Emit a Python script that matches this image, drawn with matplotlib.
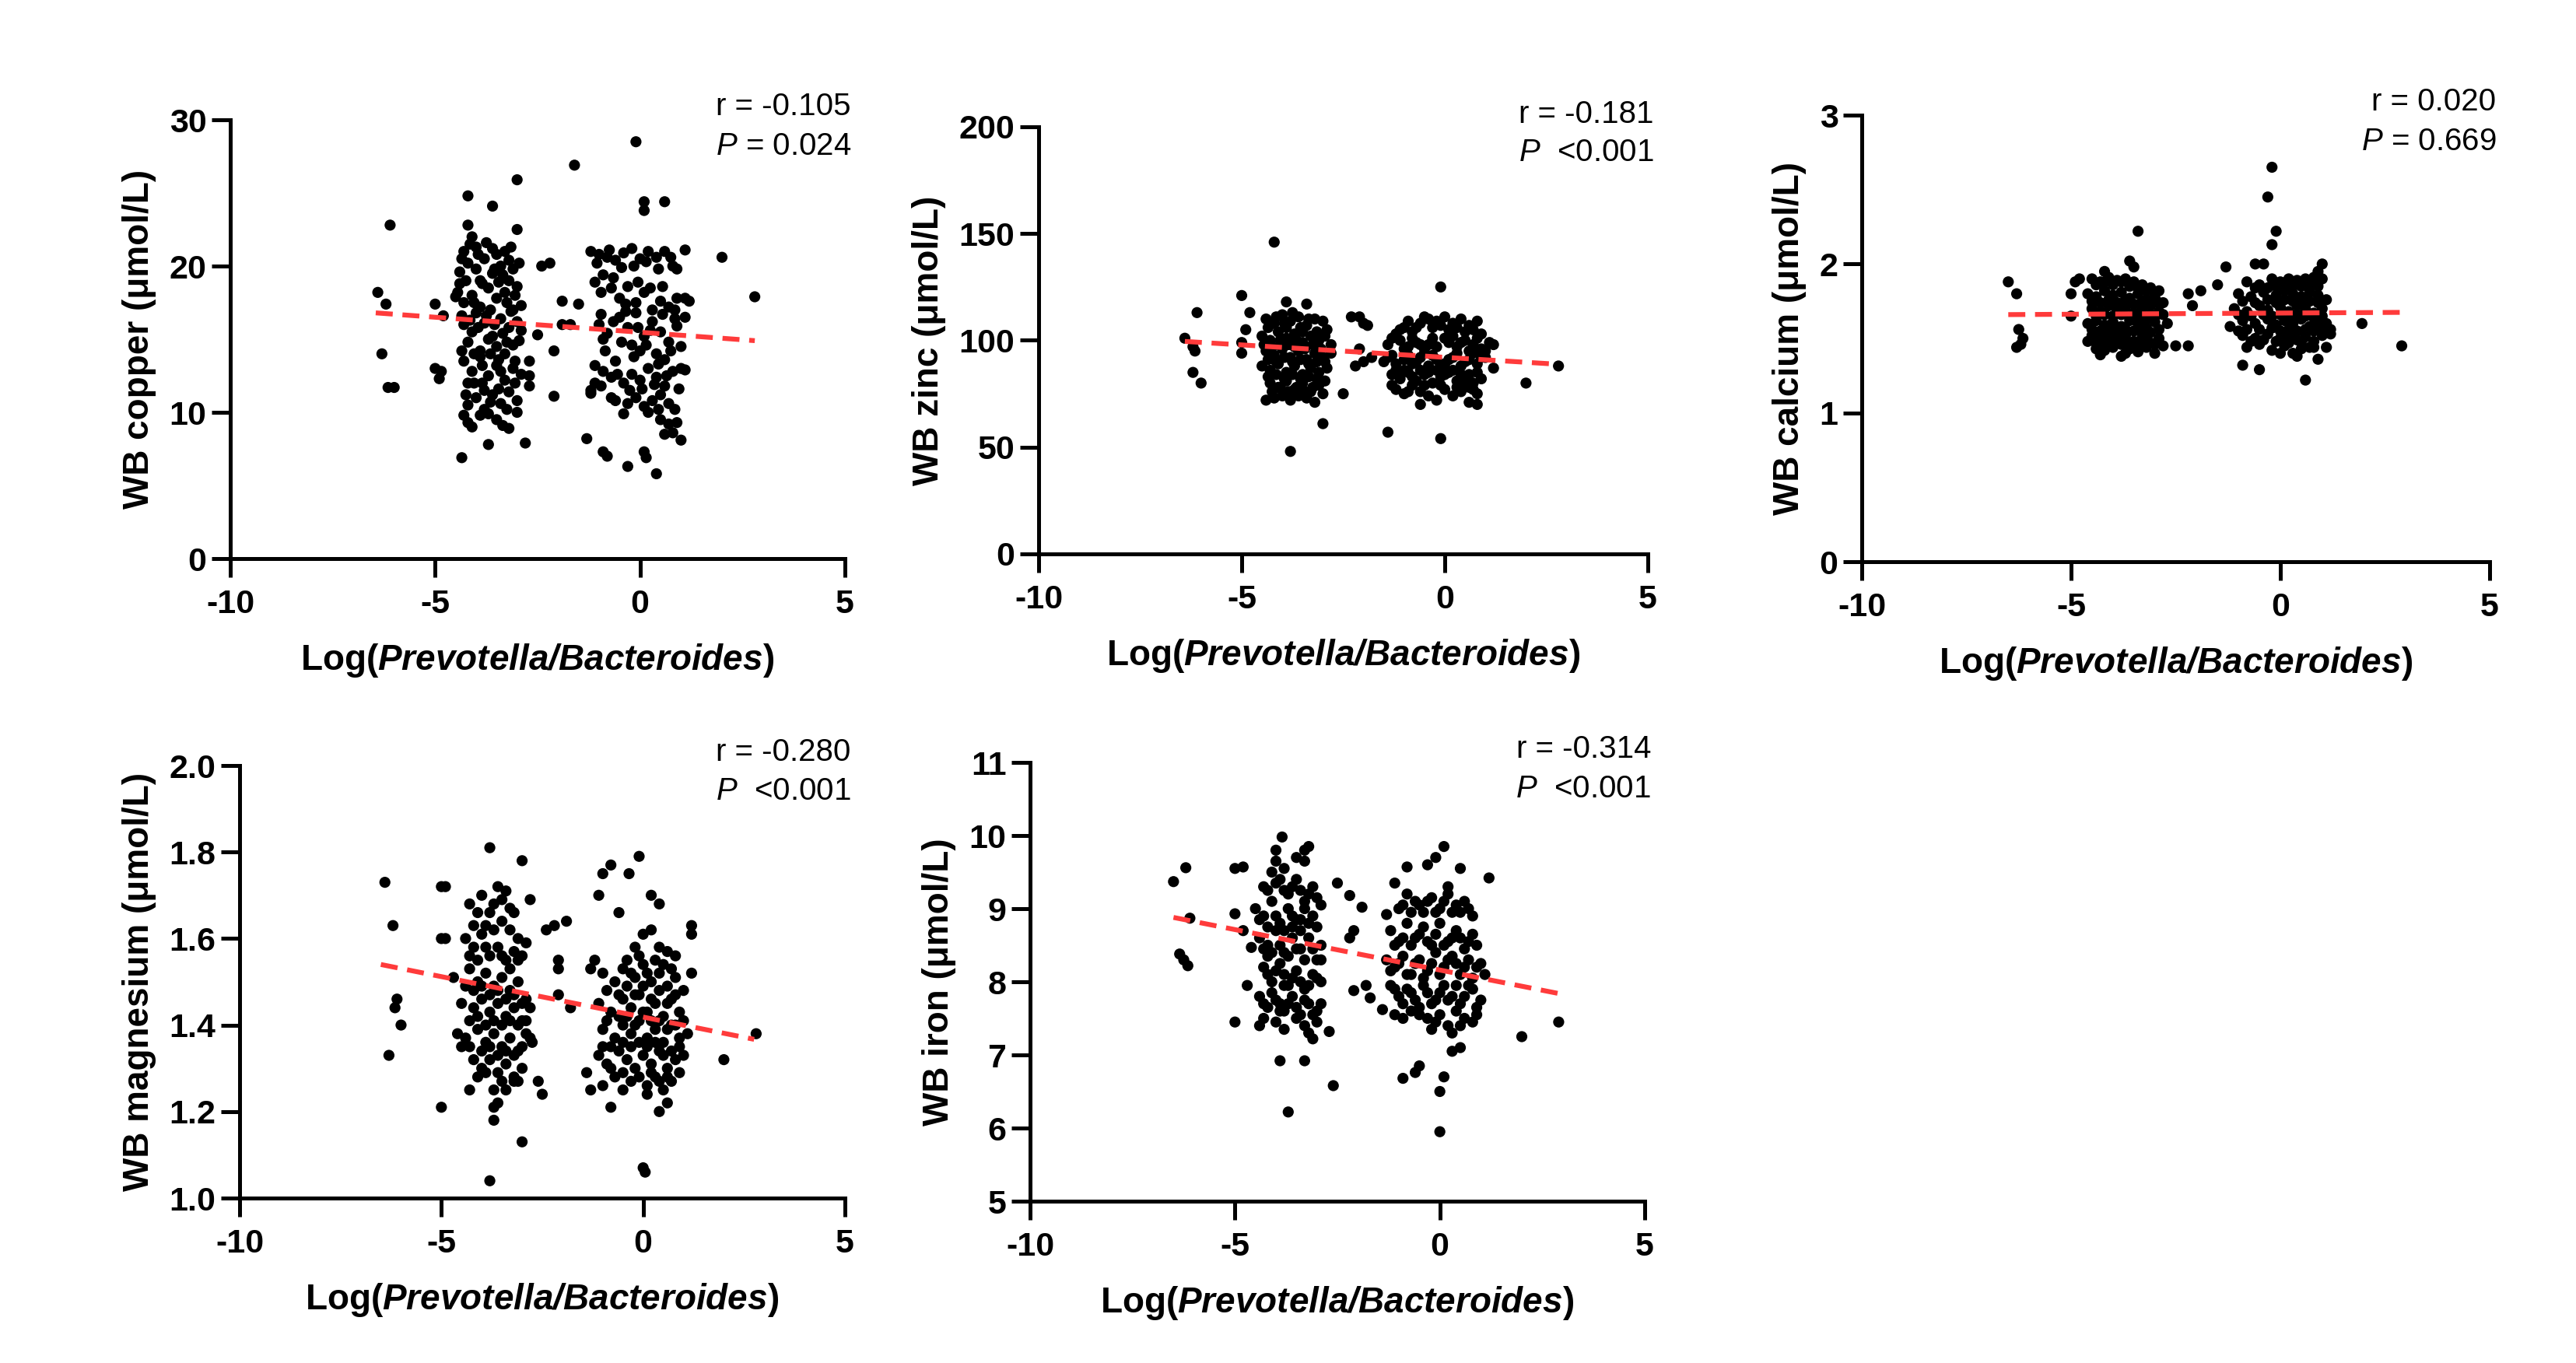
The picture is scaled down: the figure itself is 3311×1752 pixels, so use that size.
import matplotlib
matplotlib.use("Agg")
import matplotlib.pyplot as plt

plt.rcParams.update({
    "font.family": ["Liberation Sans", "DejaVu Sans"],
    "axes.unicode_minus": False,
    "mathtext.fontset": "custom",
    "mathtext.rm": "Liberation Sans",
    "mathtext.it": "Liberation Sans:italic",
    "mathtext.bf": "Liberation Sans:bold",
    "mathtext.bfit": "Liberation Sans:bold:italic",
})

# ---- data (x = Log(Prevotella/Bacteroides)) ----
copper_pts = [
    (-6.4, 18.2), (-6.3, 14.0), (-6.2, 17.4), (-6.1, 22.8), (-6.15, 11.7), (-6.0, 11.7),
    (-5.0, 17.4), (-4.8, 16.6), (-5.0, 13.0), (-4.9, 12.3), (-4.85, 12.8),
    (-4.35, 6.9), (-4.2, 22.8), (-4.2, 24.8), (-3.6, 24.1), (-3.0, 25.9), (-3.0, 22.5),
    (-3.7, 7.8), (-2.8, 7.9), (-3.2, 8.9), (-3.35, 9.1),
    (-2.5, 15.3), (-2.4, 20.0), (-2.2, 20.2), (-2.1, 14.2), (-2.1, 11.1), (-2.7, 12.5),
    (-2.7, 11.8), (-2.7, 13.5), (-1.9, 16.0), (-1.9, 17.6), (-1.6, 26.9), (-1.5, 17.4), (-1.7, 16.0),
    (-0.1, 28.5), (0.1, 23.8), (0.1, 24.4), (0.6, 24.4), (1.1, 21.1), (2.0, 20.6), (2.8, 17.9),
    (1.0, 8.1), (0.4, 5.8), (0.1, 7.3), (0.15, 6.9), (-0.3, 6.3), (-0.8, 7.0), (-0.9, 7.3),
    (-1.3, 8.2), (-1.2, 11.3), (-0.7, 11.0), (-0.6, 13.5), (1.1, 12.9), (1.1, 17.8), (1.2, 17.6), (1.1, 16.5),
    # left cluster
    (-4.4, 19.6), (-4.3, 21.0), (-4.2, 20.2), (-4.1, 22.0), (-4.0, 21.3), (-3.9, 19.0), (-3.8, 20.5),
    (-3.6, 21.2), (-3.5, 20.8), (-3.4, 20.0), (-3.3, 21.0), (-3.2, 20.4), (-3.1, 19.8), (-3.0, 18.6),
    (-4.4, 18.8), (-4.3, 17.5), (-4.1, 18.0), (-3.9, 17.2), (-3.7, 18.5), (-3.5, 17.8), (-3.3, 18.2),
    (-3.1, 17.0), (-2.9, 17.3), (-4.5, 17.9), (-4.3, 16.0), (-4.1, 15.5), (-4.0, 16.8), (-3.8, 16.1),
    (-3.6, 15.2), (-3.4, 16.4), (-3.2, 15.8), (-3.0, 16.2), (-2.9, 15.6), (-4.2, 14.8), (-3.9, 14.2),
    (-3.7, 15.0), (-3.5, 14.5), (-3.3, 14.0), (-3.1, 14.6), (-4.3, 13.5), (-4.1, 12.8), (-3.9, 13.8),
    (-3.7, 12.5), (-3.5, 13.2), (-3.3, 12.2), (-3.1, 13.0), (-2.9, 12.6), (-4.2, 12.0), (-3.8, 11.5),
    (-4.2, 10.5), (-4.0, 11.0), (-3.8, 10.2), (-3.6, 11.2), (-3.4, 10.6), (-3.2, 11.4), (-3.0, 10.8),
    (-3.9, 9.8), (-4.2, 9.3), (-4.1, 9.0), (-3.5, 9.5), (-3.0, 10.0), (-3.4, 12.8), (-3.6, 19.5),
    (-4.0, 19.8), (-3.2, 19.0),
    (-4.35, 20.5), (-4.15, 21.5), (-3.95, 20.8), (-3.75, 21.6), (-3.55, 19.8), (-3.35, 19.4),
    (-3.15, 21.3), (-2.95, 20.2), (-4.45, 18.2), (-4.25, 19.0), (-4.05, 17.5), (-3.85, 18.8),
    (-3.65, 17.0), (-3.45, 18.9), (-3.25, 17.5), (-3.05, 18.0), (-4.35, 16.6), (-4.15, 16.3),
    (-3.95, 15.8), (-3.75, 16.6), (-3.55, 16.0), (-3.35, 15.4), (-3.15, 16.9), (-2.95, 14.9),
    (-4.35, 14.2), (-4.05, 14.0), (-3.85, 13.2), (-3.65, 14.0), (-3.45, 13.6), (-3.25, 14.8),
    (-3.05, 13.5), (-4.25, 11.2), (-4.05, 12.0), (-3.85, 12.0), (-3.65, 10.7), (-3.45, 11.6),
    (-3.25, 10.2), (-3.05, 12.0), (-4.3, 9.8), (-3.7, 9.9),
    # right cluster
    (-1.2, 21.0), (-1.0, 20.8), (-0.8, 20.6), (-0.6, 20.4), (-0.4, 20.9), (-0.2, 21.2), (0.0, 20.5),
    (0.2, 21.0), (0.4, 20.6), (0.6, 21.0), (0.8, 20.0), (0.9, 19.8), (-1.1, 18.9), (-0.9, 19.4),
    (-0.7, 18.5), (-0.5, 17.8), (-0.3, 18.6), (-0.1, 17.5), (0.1, 18.2), (0.3, 17.0), (0.5, 17.6),
    (0.7, 17.2), (0.9, 17.8), (-1.0, 16.0), (-0.8, 15.4), (-0.5, 16.5), (-0.3, 15.8), (-0.1, 16.8),
    (0.1, 15.2), (0.3, 16.2), (0.5, 15.5), (0.7, 14.8), (0.9, 15.9), (-0.2, 14.6), (0.0, 14.2),
    (0.4, 14.0), (0.6, 13.6), (-1.1, 13.2), (-0.9, 12.8), (-0.7, 12.4), (-0.4, 12.0), (-0.2, 12.6),
    (0.0, 12.2), (0.2, 13.0), (0.4, 12.4), (0.6, 11.8), (0.8, 12.8), (1.0, 13.0), (-1.2, 11.5),
    (-0.6, 10.8), (-0.3, 10.6), (-0.1, 11.0), (0.1, 10.4), (0.3, 10.8), (0.5, 11.2), (0.7, 10.6),
    (0.5, 9.5), (0.7, 9.2), (0.9, 9.3), (0.6, 8.5), (0.8, 8.6), (-1.1, 12.0), (-0.9, 15.0),
    (-1.05, 20.2), (-0.75, 21.1), (-0.45, 19.9), (-0.15, 20.0), (0.15, 20.3), (0.45, 19.8),
    (0.75, 20.6), (-0.95, 18.2), (-0.65, 19.2), (-0.35, 17.4), (-0.05, 18.9), (0.25, 18.5),
    (0.55, 18.6), (0.85, 17.0), (-0.95, 16.7), (-0.65, 16.2), (-0.35, 16.9), (-0.05, 15.8),
    (0.25, 15.6), (0.55, 16.7), (0.85, 16.4), (-0.85, 14.2), (-0.45, 14.8), (-0.15, 13.8),
    (0.15, 14.6), (0.45, 13.3), (0.75, 14.2), (1.0, 14.5), (-0.95, 11.8), (-0.55, 12.6),
    (-0.25, 11.5), (0.05, 11.6), (0.35, 11.9), (0.65, 12.5), (0.95, 11.6), (0.2, 10.0),
    (0.45, 10.2), (0.85, 10.2), (-0.4, 9.9),
]
copper_fit_x = [-6.45, 2.8]
copper_fit_y = [16.8, 14.9]

zinc_pts = [
    (-4.2, 146), (-5.0, 121), (-3.9, 118), (-3.4, 117), (-6.1, 113), (-4.8, 113), (-6.4, 101),
    (-6.2, 97), (-6.15, 95), (-6.2, 85), (-6.0, 80), (-5.0, 99), (-4.9, 105), (-5.0, 94),
    (-3.0, 61), (-3.8, 48), (-2.5, 75), (-2.3, 111), (-2.1, 111), (-2.0, 108), (-1.9, 107),
    (-2.1, 96), (-2.2, 88), (-2.0, 90), (-1.8, 92), (-1.4, 57), (-0.1, 54), (-0.1, 125),
    (2.0, 80), (2.8, 88), (1.2, 87), (1.2, 98), (0.8, 70), (0.6, 71), (-0.6, 70),
    # left cluster
    (-4.4, 110), (-4.2, 108), (-4.0, 112), (-3.8, 109), (-3.6, 111), (-3.4, 107), (-3.2, 110),
    (-3.0, 109), (-2.9, 105), (-4.5, 102), (-4.3, 100), (-4.1, 104), (-3.9, 101), (-3.7, 103),
    (-3.5, 99), (-3.3, 102), (-3.1, 100), (-2.8, 98), (-4.4, 95), (-4.2, 93), (-4.0, 96),
    (-3.8, 92), (-3.6, 95), (-3.4, 91), (-3.2, 94), (-3.0, 92), (-2.8, 94), (-4.5, 88),
    (-4.3, 86), (-4.1, 89), (-3.9, 85), (-3.7, 88), (-3.5, 84), (-3.3, 87), (-3.1, 85),
    (-2.9, 87), (-4.3, 80), (-4.1, 78), (-3.9, 81), (-3.7, 77), (-3.5, 80), (-3.3, 76),
    (-3.1, 79), (-3.0, 75), (-4.4, 72), (-4.2, 73), (-4.0, 74), (-3.8, 72), (-3.6, 74),
    (-3.4, 73), (-3.2, 71), (-3.7, 97), (-3.9, 106), (-3.5, 104),
    (-4.35, 106), (-4.15, 111), (-3.95, 108), (-3.75, 113), (-3.55, 106), (-3.35, 110),
    (-3.15, 104), (-2.95, 102), (-4.45, 98), (-4.25, 97), (-4.05, 100), (-3.85, 98),
    (-3.65, 100), (-3.45, 96), (-3.25, 98), (-3.05, 96), (-4.35, 91), (-4.15, 90),
    (-3.95, 92), (-3.75, 90), (-3.55, 91), (-3.35, 89), (-3.15, 90), (-2.95, 90),
    (-4.35, 83), (-4.15, 84), (-3.95, 82), (-3.75, 84), (-3.55, 82), (-3.35, 83),
    (-3.15, 82), (-2.95, 81), (-4.25, 76), (-4.05, 78), (-3.85, 76), (-3.65, 78),
    (-3.45, 76), (-3.25, 78), (-3.85, 74),
    # right cluster
    (-1.2, 103), (-1.0, 106), (-0.8, 104), (-0.6, 108), (-0.4, 110), (-0.2, 109), (0.0, 111),
    (0.2, 108), (0.4, 110), (0.6, 107), (0.8, 109), (-1.4, 98), (-1.1, 100), (-0.9, 97),
    (-0.7, 99), (-0.5, 96), (-0.3, 101), (0.1, 99), (0.3, 97), (0.5, 100), (0.7, 98),
    (0.9, 96), (1.1, 99), (-1.5, 90), (-1.3, 93), (-1.0, 91), (-0.8, 89), (-0.6, 92),
    (-0.4, 88), (-0.2, 91), (0.0, 89), (0.2, 92), (0.4, 88), (0.6, 91), (0.8, 89), (1.0, 92),
    (-1.3, 84), (-1.1, 82), (-0.9, 85), (-0.7, 81), (-0.5, 84), (-0.3, 80), (-0.1, 83),
    (0.1, 85), (0.3, 81), (0.5, 83), (0.7, 80), (0.9, 82), (-1.2, 77), (-1.0, 75), (-0.6, 76),
    (-0.4, 74), (-0.2, 72), (0.0, 77), (0.2, 74), (0.4, 76), (0.6, 78), (0.8, 75),
    (-1.1, 105), (-0.9, 109), (-0.7, 106), (-0.5, 111), (-0.3, 106), (-0.1, 107), (0.1, 105),
    (0.3, 106), (0.5, 104), (0.7, 105), (0.9, 103), (-1.3, 101), (-1.0, 96), (-0.8, 101),
    (-0.6, 98), (-0.4, 98), (-0.2, 97), (0.0, 101), (0.2, 102), (0.4, 99), (0.6, 95),
    (0.8, 101), (1.0, 95), (-1.4, 92), (-1.2, 89), (-0.9, 93), (-0.7, 90), (-0.5, 94),
    (-0.3, 93), (-0.1, 87), (0.1, 91), (0.3, 94), (0.5, 90), (0.7, 94), (0.9, 92),
    (-1.2, 86), (-1.0, 86), (-0.8, 83), (-0.6, 86), (-0.4, 85), (-0.2, 86), (0.0, 84),
    (0.2, 86), (0.4, 84), (0.6, 84), (0.8, 85), (-1.3, 79), (-0.8, 79), (-0.5, 79),
    (-0.1, 79), (0.3, 78), (0.5, 80), (0.7, 77), (-0.9, 76),
]
zinc_fit_x = [-6.4, 2.8]
zinc_fit_y = [99.5, 88.8]

calcium_pts = [
    (-6.5, 1.88), (-6.3, 1.80), (-6.25, 1.56), (-6.15, 1.50), (-6.3, 1.44), (-6.2, 1.46),
    (-5.0, 1.80), (-5.0, 1.65), (-4.9, 1.88), (-4.8, 1.90), (-3.4, 2.22), (-3.6, 2.02),
    (-3.5, 1.98), (-4.2, 1.95), (-2.5, 1.45), (-2.2, 1.45), (-2.2, 1.80), (-1.9, 1.82),
    (-2.1, 1.72), (-1.5, 1.86), (-1.3, 1.98), (-0.9, 1.32), (-0.5, 1.29), (-0.6, 2.00),
    (-0.4, 2.00), (-0.3, 2.45), (-0.2, 2.65), (-0.1, 2.22), (-0.2, 2.13), (1.0, 2.00),
    (0.9, 1.95), (0.6, 1.22), (0.9, 1.36), (1.1, 1.44), (1.95, 1.60), (2.9, 1.45),
    (-1.0, 1.55), (-1.2, 1.58),
    # left cluster
    (-4.5, 1.90), (-4.3, 1.88), (-4.1, 1.91), (-3.9, 1.89), (-3.7, 1.90), (-3.5, 1.88),
    (-3.3, 1.86), (-3.1, 1.84), (-2.9, 1.82), (-4.6, 1.80), (-4.4, 1.78), (-4.2, 1.82),
    (-4.0, 1.79), (-3.8, 1.81), (-3.6, 1.77), (-3.4, 1.80), (-3.2, 1.76), (-3.0, 1.78),
    (-2.8, 1.74), (-4.5, 1.70), (-4.3, 1.68), (-4.1, 1.72), (-3.9, 1.69), (-3.7, 1.71),
    (-3.5, 1.67), (-3.3, 1.70), (-3.1, 1.66), (-2.9, 1.68), (-4.6, 1.60), (-4.4, 1.62),
    (-4.2, 1.59), (-4.0, 1.61), (-3.8, 1.58), (-3.6, 1.62), (-3.4, 1.60), (-3.2, 1.57),
    (-3.0, 1.61), (-2.7, 1.60), (-4.5, 1.52), (-4.3, 1.50), (-4.1, 1.53), (-3.9, 1.49),
    (-3.7, 1.52), (-3.5, 1.48), (-3.3, 1.51), (-3.1, 1.47), (-2.9, 1.50), (-4.4, 1.43),
    (-4.2, 1.42), (-4.0, 1.44), (-3.8, 1.38), (-3.6, 1.43), (-3.4, 1.41), (-3.2, 1.44),
    (-3.0, 1.40), (-4.3, 1.39), (-2.8, 1.45),
    (-4.4, 1.86), (-4.2, 1.88), (-4.0, 1.86), (-3.8, 1.88), (-3.6, 1.85), (-3.4, 1.84),
    (-3.2, 1.82), (-3.0, 1.80), (-4.5, 1.75), (-4.3, 1.74), (-4.1, 1.76), (-3.9, 1.74),
    (-3.7, 1.76), (-3.5, 1.73), (-3.3, 1.75), (-3.1, 1.72), (-2.9, 1.74), (-4.4, 1.65),
    (-4.2, 1.66), (-4.0, 1.65), (-3.8, 1.66), (-3.6, 1.64), (-3.4, 1.65), (-3.2, 1.63),
    (-3.0, 1.64), (-2.8, 1.66), (-4.5, 1.56), (-4.3, 1.55), (-4.1, 1.56), (-3.9, 1.55),
    (-3.7, 1.56), (-3.5, 1.55), (-3.3, 1.55), (-3.1, 1.54), (-2.9, 1.56), (-4.4, 1.47),
    (-4.2, 1.47), (-4.0, 1.48), (-3.8, 1.46), (-3.6, 1.47), (-3.4, 1.46), (-3.2, 1.48),
    (-3.0, 1.46), (-4.6, 1.48), (-3.7, 1.40),
    # right cluster
    (-0.8, 1.88), (-0.5, 1.86), (-0.2, 1.90), (0.0, 1.88), (0.2, 1.90), (0.4, 1.89),
    (0.6, 1.90), (0.8, 1.91), (1.0, 1.90), (-1.0, 1.80), (-0.7, 1.78), (-0.4, 1.81),
    (-0.1, 1.79), (0.1, 1.82), (0.3, 1.80), (0.5, 1.78), (0.7, 1.81), (0.9, 1.79),
    (-1.1, 1.70), (-0.8, 1.68), (-0.5, 1.72), (-0.3, 1.69), (0.0, 1.71), (0.2, 1.68),
    (0.4, 1.72), (0.6, 1.70), (0.8, 1.67), (1.0, 1.70), (-0.9, 1.62), (-0.6, 1.60),
    (-0.3, 1.63), (-0.1, 1.59), (0.1, 1.62), (0.3, 1.60), (0.5, 1.63), (0.7, 1.58),
    (0.9, 1.61), (1.1, 1.60), (1.2, 1.56), (-0.9, 1.52), (-0.6, 1.50), (-0.3, 1.53),
    (0.0, 1.50), (0.2, 1.52), (0.4, 1.49), (0.6, 1.51), (0.8, 1.48), (1.0, 1.52),
    (1.2, 1.53), (-0.8, 1.44), (-0.5, 1.46), (-0.2, 1.42), (0.1, 1.45), (0.3, 1.40),
    (0.5, 1.43), (0.7, 1.44), (0.4, 1.38),
    (-0.6, 1.84), (-0.3, 1.84), (-0.1, 1.85), (0.1, 1.86), (0.3, 1.85), (0.5, 1.85),
    (0.7, 1.86), (0.9, 1.85), (-0.9, 1.75), (-0.6, 1.74), (-0.3, 1.76), (-0.1, 1.74),
    (0.1, 1.76), (0.3, 1.75), (0.5, 1.74), (0.7, 1.75), (0.9, 1.74), (1.1, 1.76),
    (-1.0, 1.66), (-0.7, 1.65), (-0.4, 1.66), (-0.2, 1.65), (0.0, 1.66), (0.2, 1.65),
    (0.4, 1.66), (0.6, 1.65), (0.8, 1.64), (1.0, 1.65), (-0.8, 1.56), (-0.5, 1.56),
    (-0.2, 1.57), (0.0, 1.55), (0.2, 1.56), (0.4, 1.55), (0.6, 1.56), (0.8, 1.55),
    (1.0, 1.57), (-0.7, 1.48), (-0.4, 1.49), (-0.1, 1.48), (0.2, 1.47), (0.5, 1.48),
    (0.8, 1.44), (0.0, 1.40),
]
calcium_fit_x = [-6.5, 2.9]
calcium_fit_y = [1.66, 1.675]

magnesium_pts = [
    (-6.4, 1.73), (-6.3, 1.33), (-6.2, 1.63), (-6.15, 1.44), (-6.1, 1.46), (-6.0, 1.40),
    (-5.0, 1.72), (-4.9, 1.72), (-5.0, 1.60), (-4.9, 1.60), (-5.0, 1.21), (-4.7, 1.51),
    (-3.8, 1.81), (-3.0, 1.78), (-2.8, 1.69), (-3.0, 1.13), (-3.7, 1.18), (-3.7, 1.21),
    (-3.8, 1.04), (-2.6, 1.27), (-2.5, 1.24), (-2.4, 1.62), (-2.2, 1.63), (-1.9, 1.64),
    (-2.1, 1.55), (-2.1, 1.53), (-2.1, 1.47), (-1.8, 1.44), (-1.3, 1.53), (-1.2, 1.55),
    (-1.0, 1.75), (-0.8, 1.77), (-0.6, 1.66), (-1.1, 1.70), (-0.35, 1.75), (-0.1, 1.79),
    (0.2, 1.70), (0.4, 1.68), (1.2, 1.63), (1.2, 1.61), (1.2, 1.52), (2.0, 1.32), (2.8, 1.38),
    (0.0, 1.07), (0.05, 1.06), (0.4, 1.20), (0.6, 1.22), (-1.4, 1.29), (-1.3, 1.25),
    (-1.0, 1.26), (-0.8, 1.21), (-0.5, 1.25), (-0.8, 1.30), (-2.8, 1.37), (-2.75, 1.36),
    # left cluster
    (-4.3, 1.68), (-4.0, 1.70), (-3.8, 1.66), (-3.6, 1.72), (-3.4, 1.71), (-3.2, 1.66),
    (-3.9, 1.63), (-3.5, 1.64), (-3.1, 1.60), (-4.4, 1.60), (-4.2, 1.58), (-4.0, 1.61),
    (-3.8, 1.56), (-3.6, 1.58), (-3.4, 1.55), (-3.2, 1.57), (-3.0, 1.56), (-2.9, 1.59),
    (-4.3, 1.53), (-4.1, 1.50), (-3.9, 1.52), (-3.7, 1.49), (-3.5, 1.51), (-3.3, 1.48),
    (-3.1, 1.50), (-2.9, 1.46), (-4.5, 1.45), (-4.2, 1.44), (-4.0, 1.46), (-3.8, 1.43),
    (-3.6, 1.45), (-3.4, 1.42), (-3.2, 1.44), (-3.0, 1.41), (-2.8, 1.44), (-4.6, 1.38),
    (-4.4, 1.37), (-4.1, 1.39), (-3.9, 1.36), (-3.7, 1.38), (-3.5, 1.35), (-3.3, 1.37),
    (-3.1, 1.34), (-2.9, 1.38), (-4.2, 1.32), (-4.0, 1.30), (-3.8, 1.32), (-3.6, 1.29),
    (-3.4, 1.31), (-3.2, 1.28), (-3.0, 1.30), (-4.3, 1.25), (-3.7, 1.25), (-3.4, 1.25),
    (-3.2, 1.27),
    (-4.1, 1.66), (-3.7, 1.68), (-3.5, 1.69), (-3.3, 1.67), (-4.2, 1.63), (-3.7, 1.62),
    (-3.3, 1.62), (-4.3, 1.56), (-4.1, 1.55), (-3.9, 1.58), (-3.5, 1.56), (-3.3, 1.53),
    (-3.1, 1.55), (-4.4, 1.49), (-4.2, 1.48), (-4.0, 1.49), (-3.8, 1.47), (-3.6, 1.48),
    (-3.4, 1.46), (-3.2, 1.47), (-3.0, 1.45), (-4.3, 1.41), (-4.1, 1.42), (-3.9, 1.40),
    (-3.7, 1.41), (-3.5, 1.40), (-3.3, 1.41), (-3.1, 1.40), (-2.9, 1.41), (-4.5, 1.35),
    (-4.3, 1.35), (-4.0, 1.34), (-3.8, 1.35), (-3.6, 1.33), (-3.4, 1.34), (-3.2, 1.33),
    (-3.0, 1.35), (-4.1, 1.28), (-3.9, 1.29), (-3.5, 1.27), (-3.1, 1.27), (-3.6, 1.22),
    # right cluster
    (-0.2, 1.58), (0.0, 1.61), (0.2, 1.62), (0.4, 1.58), (0.6, 1.57), (0.8, 1.56), (-0.4, 1.55),
    (-1.0, 1.52), (-0.7, 1.50), (-0.5, 1.53), (-0.2, 1.51), (0.0, 1.54), (0.2, 1.50),
    (0.4, 1.52), (0.6, 1.49), (0.8, 1.51), (1.0, 1.48), (-1.1, 1.45), (-0.8, 1.43),
    (-0.5, 1.46), (-0.3, 1.44), (-0.1, 1.47), (0.1, 1.43), (0.3, 1.45), (0.5, 1.42),
    (0.7, 1.46), (0.9, 1.43), (-1.0, 1.39), (-0.7, 1.37), (-0.5, 1.40), (-0.3, 1.38),
    (-0.1, 1.41), (0.1, 1.37), (0.3, 1.39), (0.5, 1.36), (0.7, 1.40), (0.9, 1.37),
    (1.1, 1.38), (-1.1, 1.33), (-0.9, 1.31), (-0.6, 1.34), (-0.4, 1.32), (-0.2, 1.30),
    (0.0, 1.33), (0.2, 1.31), (0.4, 1.34), (0.6, 1.30), (0.8, 1.32), (1.0, 1.33),
    (-0.7, 1.28), (-0.3, 1.27), (0.1, 1.26), (0.3, 1.28), (0.5, 1.25), (0.7, 1.27), (0.1, 1.24),
    (-0.1, 1.56), (0.3, 1.55), (0.5, 1.54), (-0.3, 1.52), (0.1, 1.52), (0.7, 1.53),
    (-0.9, 1.48), (-0.6, 1.47), (-0.4, 1.49), (-0.2, 1.47), (0.0, 1.49), (0.2, 1.46),
    (0.4, 1.48), (0.6, 1.45), (0.8, 1.47), (-0.9, 1.41), (-0.6, 1.42), (-0.4, 1.42),
    (-0.2, 1.40), (0.0, 1.43), (0.2, 1.41), (0.4, 1.41), (0.6, 1.39), (0.8, 1.40),
    (1.0, 1.41), (-1.0, 1.35), (-0.8, 1.35), (-0.5, 1.36), (-0.3, 1.35), (-0.1, 1.36),
    (0.1, 1.35), (0.3, 1.36), (0.5, 1.33), (0.7, 1.34), (0.9, 1.35), (-0.5, 1.29),
    (-0.1, 1.28), (0.2, 1.29), (0.4, 1.27), (0.6, 1.28), (0.9, 1.29),
]
magnesium_fit_x = [-6.5, 2.75]
magnesium_fit_y = [1.54, 1.367]

iron_pts = [
    (-6.5, 9.37), (-6.2, 9.56), (-6.35, 8.38), (-6.25, 8.30), (-6.15, 8.22), (-6.1, 8.87),
    (-5.0, 9.55), (-4.8, 9.57), (-5.0, 8.93), (-4.8, 8.70), (-5.0, 7.45), (-4.4, 7.40),
    (-4.6, 8.47), (-4.7, 7.95), (-3.3, 9.80), (-3.2, 9.85), (-3.3, 9.65), (-3.5, 9.70),
    (-3.85, 9.98), (-4.0, 9.80), (-3.9, 6.92), (-3.3, 6.92), (-3.7, 6.22), (-2.6, 6.58),
    (-2.7, 7.32), (-3.1, 7.22), (-3.2, 7.30), (-2.5, 9.35), (-2.2, 9.18), (-2.2, 8.60),
    (-2.1, 8.70), (-1.9, 9.02), (-2.1, 7.88), (-1.8, 7.95), (-1.7, 7.78), (-1.4, 7.62),
    (-1.1, 9.35), (-1.3, 8.92), (-0.8, 9.57), (-0.9, 6.68), (-0.6, 6.76), (-0.5, 6.85),
    (0.1, 6.70), (0.0, 6.50), (0.0, 5.95), (0.3, 7.05), (0.5, 7.10), (1.2, 9.42), (2.0, 7.25),
    (2.9, 7.45), (-0.1, 9.70), (0.1, 9.85), (-0.3, 9.60), (0.5, 9.55), (0.2, 9.30),
    # left cluster
    (-4.3, 9.30), (-4.1, 9.50), (-3.9, 9.40), (-3.7, 9.20), (-3.5, 9.40), (-3.3, 9.10),
    (-3.1, 9.30), (-4.0, 9.65), (-3.8, 9.55), (-4.5, 9.00), (-4.3, 8.90), (-4.1, 9.10),
    (-3.9, 8.80), (-3.7, 9.00), (-3.5, 8.85), (-3.3, 9.00), (-3.1, 8.90), (-2.9, 9.05),
    (-4.4, 8.60), (-4.2, 8.50), (-4.0, 8.70), (-3.8, 8.40), (-3.6, 8.60), (-3.4, 8.45),
    (-3.2, 8.60), (-3.0, 8.30), (-2.9, 8.50), (-4.3, 8.20), (-4.1, 8.00), (-3.9, 8.25),
    (-3.7, 7.95), (-3.5, 8.15), (-3.3, 7.90), (-3.1, 8.10), (-2.9, 8.00), (-4.4, 7.80),
    (-4.2, 7.65), (-4.0, 7.75), (-3.8, 7.60), (-3.6, 7.80), (-3.4, 7.55), (-3.2, 7.70),
    (-3.0, 7.60), (-4.3, 7.50), (-4.0, 7.45), (-3.8, 7.35), (-3.5, 7.50), (-3.3, 7.40),
    (-3.0, 7.45), (-3.6, 8.90), (-3.8, 8.10), (-3.4, 8.70), (-4.2, 8.35), (-3.9, 7.70),
    (-4.2, 9.25), (-4.0, 9.35), (-3.8, 9.25), (-3.6, 9.30), (-3.4, 9.25), (-3.2, 9.20),
    (-3.0, 9.15), (-4.4, 8.85), (-4.2, 8.75), (-4.0, 8.90), (-3.8, 8.70), (-3.6, 8.75),
    (-3.4, 8.85), (-3.2, 8.80), (-3.0, 8.75), (-4.3, 8.45), (-4.1, 8.40), (-3.9, 8.50),
    (-3.7, 8.35), (-3.5, 8.45), (-3.3, 8.30), (-3.1, 8.45), (-2.9, 8.30), (-4.2, 8.10),
    (-4.0, 8.15), (-3.8, 7.95), (-3.6, 8.05), (-3.4, 8.00), (-3.2, 7.95), (-3.0, 8.05),
    (-4.3, 7.70), (-4.1, 7.85), (-3.9, 7.60), (-3.7, 7.70), (-3.5, 7.65), (-3.3, 7.75),
    (-3.1, 7.55), (-2.9, 7.70),
    # right cluster
    (-1.0, 9.00), (-0.8, 9.20), (-0.6, 9.10), (-0.4, 8.95), (-0.2, 9.15), (0.0, 9.00),
    (0.2, 9.20), (0.4, 9.05), (0.6, 9.10), (0.8, 8.90), (-1.2, 8.70), (-1.0, 8.55),
    (-0.8, 8.80), (-0.6, 8.60), (-0.4, 8.75), (-0.2, 8.50), (0.0, 8.80), (0.2, 8.55),
    (0.4, 8.70), (0.6, 8.45), (0.8, 8.65), (-1.3, 8.30), (-1.1, 8.20), (-0.9, 8.35),
    (-0.7, 8.10), (-0.5, 8.30), (-0.3, 8.15), (-0.1, 8.40), (0.1, 8.20), (0.3, 8.35),
    (0.5, 8.10), (0.7, 8.30), (0.9, 8.20), (1.1, 8.10), (-1.2, 7.95), (-1.0, 7.80),
    (-0.8, 7.90), (-0.6, 7.75), (-0.4, 7.95), (-0.2, 7.70), (0.0, 7.85), (0.2, 7.75),
    (0.4, 7.95), (0.6, 7.80), (0.8, 7.90), (1.0, 7.75), (-1.1, 7.55), (-0.7, 7.60),
    (-0.3, 7.50), (0.0, 7.55), (0.2, 7.40), (0.4, 7.60), (0.6, 7.50), (0.8, 7.45),
    (0.3, 7.30), (-0.2, 7.35),
    (-0.9, 9.05), (-0.7, 8.95), (-0.5, 9.05), (-0.3, 9.10), (-0.1, 8.95), (0.1, 9.10),
    (0.3, 8.95), (0.5, 8.95), (0.7, 9.00), (-1.1, 8.50), (-0.9, 8.60), (-0.7, 8.50),
    (-0.5, 8.65), (-0.3, 8.55), (-0.1, 8.65), (0.1, 8.50), (0.3, 8.60), (0.5, 8.60),
    (0.7, 8.55), (0.9, 8.50), (-1.2, 8.15), (-1.0, 8.25), (-0.8, 8.10), (-0.6, 8.25),
    (-0.4, 8.05), (-0.2, 8.25), (0.0, 8.10), (0.2, 8.30), (0.4, 8.25), (0.6, 8.20),
    (0.8, 8.05), (1.0, 8.25), (-1.1, 7.90), (-0.9, 7.70), (-0.7, 7.85), (-0.5, 7.65),
    (-0.3, 7.85), (-0.1, 7.75), (0.1, 7.95), (0.3, 7.80), (0.5, 7.70), (0.7, 7.95),
    (0.9, 7.65), (-0.9, 7.50), (-0.5, 7.55), (-0.1, 7.45), (0.5, 7.40), (0.9, 7.55),
]
iron_fit_x = [-6.5, 2.9]
iron_fit_y = [8.88, 7.84]

y_labels = ["WB copper (μmol/L)", "WB zinc (μmol/L)", "WB calcium (μmol/L)",
            "WB magnesium (μmol/L)", "WB iron (μmol/L)"]
r_texts = ["r = -0.105", "r = -0.181", "r = 0.020", "r = -0.280", "r = -0.314"]
p_texts = [r"$\mathit{P}$ = 0.024", r"$\mathit{P}$  <0.001", r"$\mathit{P}$ = 0.669",
           r"$\mathit{P}$  <0.001", r"$\mathit{P}$  <0.001"]
y_ticks = [[0, 10, 20, 30], [0, 50, 100, 150, 200], [0, 1, 2, 3],
           [1.0, 1.2, 1.4, 1.6, 1.8, 2.0], [5, 6, 7, 8, 9, 10, 11]]
y_ticklabels = [["0", "10", "20", "30"], ["0", "50", "100", "150", "200"], ["0", "1", "2", "3"],
                ["1.0", "1.2", "1.4", "1.6", "1.8", "2.0"], ["5", "6", "7", "8", "9", "10", "11"]]
x_ticks = [-10, -5, 0, 5]
x_label = r"Log($\mathbfit{Prevotella/Bacteroides}$)"

panels = [
    (copper_pts, copper_fit_x, copper_fit_y),
    (zinc_pts, zinc_fit_x, zinc_fit_y),
    (calcium_pts, calcium_fit_x, calcium_fit_y),
    (magnesium_pts, magnesium_fit_x, magnesium_fit_y),
    (iron_pts, iron_fit_x, iron_fit_y),
]

W, H = 3312, 1752
# axes boxes in pixels: left, right, top, bottom
boxes = [(296, 1086, 154, 718), (1335, 2118, 163, 712), (2393, 3200, 148, 722),
         (308, 1086, 984, 1540), (1324, 2114, 980, 1544)]

fig = plt.figure(figsize=(W / 100, H / 100), dpi=100)

for i, (pts, fx, fy) in enumerate(panels):
    l, r, t, b = boxes[i]
    ax = fig.add_axes([l / W, 1 - b / H, (r - l) / W, (b - t) / H])
    xs = [p[0] for p in pts]
    ys = [p[1] for p in pts]
    ax.scatter(xs, ys, s=105, color="black", edgecolors="none", zorder=2)
    ax.plot(fx, fy, color="#ff3b3b", lw=4.5, dashes=(3.5, 2), zorder=3)

    ax.set_xlim(-10, 5)
    ax.set_ylim(y_ticks[i][0], y_ticks[i][-1])
    ax.set_xticks(x_ticks)
    ax.set_xticklabels([str(v) for v in x_ticks])
    ax.set_yticks(y_ticks[i])
    ax.set_yticklabels(y_ticklabels[i])
    for sp in ["top", "right"]:
        ax.spines[sp].set_visible(False)
    for sp in ["left", "bottom"]:
        ax.spines[sp].set_linewidth(3.6)
    ax.tick_params(width=3.6, length=17, labelsize=31)
    ax.tick_params(axis="x", pad=11)
    ax.tick_params(axis="y", pad=5)
    for lab in ax.get_xticklabels() + ax.get_yticklabels():
        lab.set_fontweight("bold")
    ax.set_ylabel(y_labels[i], fontsize=33, fontweight="bold", labelpad=12)
    ax.set_xlabel(x_label, fontsize=33, fontweight="bold", labelpad=20)

    ax.text(1.01, 1.03, r_texts[i], transform=ax.transAxes, ha="right", va="center", fontsize=29)
    ax.text(1.01, 0.94, p_texts[i], transform=ax.transAxes, ha="right", va="center", fontsize=29)

fig.savefig("out.png", dpi=100, facecolor="white")
